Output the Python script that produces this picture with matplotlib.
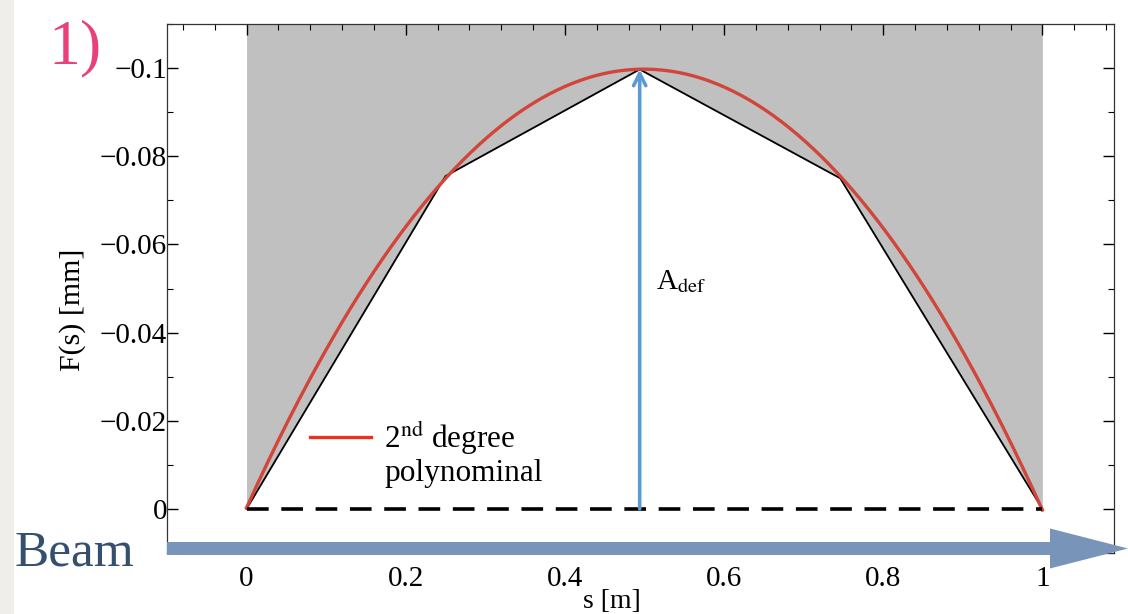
import numpy as np
import matplotlib
matplotlib.use("Agg")
import matplotlib.pyplot as plt
from matplotlib.ticker import MultipleLocator, FixedLocator
from matplotlib.patches import FancyArrow, Rectangle

plt.rcParams['font.family'] = ['Liberation Serif', 'DejaVu Serif']
plt.rcParams['mathtext.fontset'] = 'stix'

# ---- data ----
s_knots = [0.0, 0.25, 0.494, 0.746, 1.0]          # s [m]
F_knots = [0.0, -0.0755, -0.0997, -0.075, 0.0]    # F(s) [mm]
base_s = [0.0, 1.0]
base_F = [0.0, 0.0]
adef_s = 0.494
adef_F = [0.0, -0.0997]
x_ticks = [0, 0.2, 0.4, 0.6, 0.8, 1.0]
x_tick_labels = ['0', '0.2', '0.4', '0.6', '0.8', '1']
y_ticks = [-0.1, -0.08, -0.06, -0.04, -0.02, 0.0]
y_tick_labels = ['\u22120.1', '\u22120.08', '\u22120.06', '\u22120.04', '\u22120.02', '0']
x_lim = (-0.1, 1.09)
y_lim = (0.01, -0.11)

fig = plt.figure(figsize=(11.28, 6.14), dpi=100)
fig.patch.set_facecolor('white')
fig.add_artist(Rectangle((0, 0), 14 / 1128, 1, transform=fig.transFigure,
                         facecolor='#efeeeb', edgecolor='none', zorder=0))

ax = fig.add_axes([0.148, 0.0993, 0.8396, 0.8616])

# gray region above the piecewise line
ax.fill_between(s_knots, F_knots, y_lim[1] - 0.01, color='#c0c0c0', lw=0, zorder=1)

# 2nd degree polynomial fit
coef = np.polyfit(s_knots, F_knots, 2)
ss = np.linspace(0, 1, 300)
ax.plot(ss, np.polyval(coef, ss), color='#d2453a', lw=2.4, zorder=3)

# piecewise line
ax.plot(s_knots, F_knots, color='black', lw=1.3, zorder=2)

# dashed base line
ax.plot(base_s, base_F, color='black', lw=2.6, dashes=(6, 3.5), zorder=3)

# A_def arrow
ax.annotate('', xy=(adef_s, adef_F[1]), xytext=(adef_s, adef_F[0]),
            arrowprops=dict(arrowstyle='->', color='#5b9bd5', lw=2.6,
                            mutation_scale=22, shrinkA=0, shrinkB=0), zorder=4)
ax.text(0.515, -0.0515, r'A$_{\mathrm{def}}$', fontsize=21, va='center', ha='left')

# legend-like annotation
ax.plot([0.080, 0.157], [-0.0163, -0.0163], color='#e8331f', lw=2.4)
ax.text(0.173, -0.0126, '2$^{\\mathrm{nd}}$ degree\npolynominal', fontsize=22.5,
        va='center', ha='left', linespacing=1.1)

ax.set_xlim(*x_lim)
ax.set_ylim(*y_lim)
ax.xaxis.set_major_locator(FixedLocator(x_ticks))
ax.set_xticklabels(x_tick_labels)
ax.yaxis.set_major_locator(FixedLocator(y_ticks))
ax.set_yticklabels(y_tick_labels)
ax.xaxis.set_minor_locator(MultipleLocator(0.04))
ax.yaxis.set_minor_locator(MultipleLocator(0.01))
ax.tick_params(which='both', direction='in', top=True, right=True,
               labelsize=21, colors='black')
ax.tick_params(which='major', length=8, width=1.0)
ax.tick_params(axis='x', which='major', pad=9)
ax.tick_params(axis='y', which='major', pad=0)
ax.tick_params(which='minor', length=4, width=0.8)
for sp in ax.spines.values():
    sp.set_linewidth(0.9)
    sp.set_color('#333333')

ax.set_xlabel('s [m]', fontsize=20)
ax.xaxis.set_label_coords(0.47, -0.068)
ax.set_ylabel('F(s) [mm]', fontsize=21.5)
ax.yaxis.set_label_coords(-0.0855, 0.46)

# Beam arrow (figure level)
fig.add_artist(FancyArrow(1.67, 0.655, 9.61, 0.0, width=0.13, head_width=0.40,
                          head_length=0.78, length_includes_head=True,
                          transform=fig.dpi_scale_trans, color='#7894b8', lw=0))
fig.text(15 / 1128, 1 - 553 / 614, 'Beam', fontsize=37, color='#35506f',
         ha='left', va='center')
fig.text(48 / 1128, 1 - 63 / 614, '1)', fontsize=46, color='#e8407a',
         ha='left', va='baseline')

fig.savefig('out.png', dpi=100)
